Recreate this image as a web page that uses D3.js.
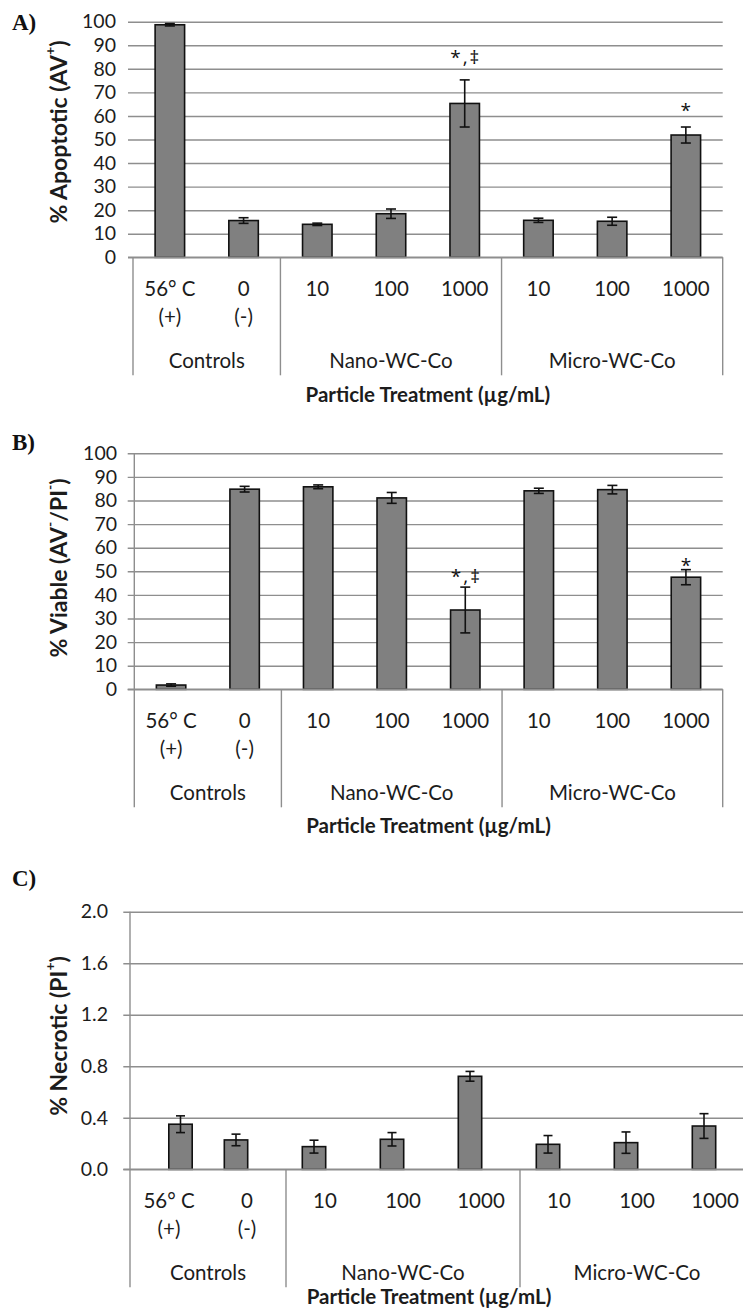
<!DOCTYPE html>
<html>
<head>
<meta charset="utf-8">
<script src="https://cdn.jsdelivr.net/npm/d3@7"></script>
<style>
  html, body { margin: 0; padding: 0; background: #fff; }
  svg { display: block; }
  text { font-family: Lato, "Open Sans", sans-serif; fill: #1c1c1c; }
</style>
</head>
<body>
<svg id="fig" width="743" height="1310"></svg>
<script>
// ---- categories ----
const doseLabels    = ["56° C", "0", "10", "100", "1000", "10", "100", "1000"];
const doseSubLabels = ["(+)", "(-)", "", "", "", "", "", ""];
const groupNames    = ["Controls", "Nano-WC-Co", "Micro-WC-Co"];
const groupSizes    = [2, 3, 3];

// ---- series: mean and error (one per category) ----
const apoptoticMean = [98.7, 15.6, 14.0, 18.5, 65.3, 15.7, 15.3, 51.9];
const apoptoticErr  = [0.5, 1.2, 0.5, 2.0, 10.0, 0.9, 1.7, 3.4];
const viableMean    = [1.8, 84.8, 85.8, 81.1, 33.6, 84.1, 84.6, 47.5];
const viableErr     = [0.5, 1.2, 0.8, 2.3, 9.7, 1.1, 1.8, 3.2];
const necroticMean  = [0.35, 0.228, 0.176, 0.233, 0.722, 0.194, 0.207, 0.336];
const necroticErr   = [0.065, 0.045, 0.05, 0.052, 0.038, 0.068, 0.083, 0.096];

// ---- tick labels ----
const percentTicks  = [0, 10, 20, 30, 40, 50, 60, 70, 80, 90, 100];
const necroticTicks = [0, 0.4, 0.8, 1.2, 1.6, 2.0];

// ---- significance marks (category index, symbol) ----
const apoptoticMarks = [{ i: 4, text: "*,\u2021" }, { i: 7, text: "*" }];
const viableMarks    = [{ i: 4, text: "*,\u2021" }, { i: 7, text: "*" }];

const xTitle = "Particle Treatment (\u00b5g/mL)";

// ---- layout of the three panels ----
const panels = [
  {
    letter: "A)", letterY: 30,
    top: 21.7, zero: 257.3, left: 133, right: 722.7, gridStart: 128, labelRight: 116,
    yMax: 100, ticks: percentTicks, fmt: d3.format("d"),
    title: [["% Apoptotic (AV", 0], ["+", 1], [")", 0]], titleCy: 132,
    mean: apoptoticMean, err: apoptoticErr, marks: apoptoticMarks, markLift: [16, 10],
    barFrac: 0.4, cap: 10, axisLine: false, xTitleDrop: 137, nudge: () => 0
  },
  {
    letter: "B)", letterY: 450,
    top: 453.3, zero: 689.3, left: 134.3, right: 722.7, gridStart: 127.7, labelRight: 117,
    yMax: 100, ticks: percentTicks, fmt: d3.format("d"),
    title: [["% Viable (AV", 0], ["-", 1], ["/PI", 0], ["-", 1], [")", 0]], titleCy: 568,
    mean: viableMean, err: viableErr, marks: viableMarks, markLift: [4, -2],
    barFrac: 0.4, cap: 10, axisLine: true, xTitleDrop: 136, nudge: () => 0
  },
  {
    letter: "C)", letterY: 886,
    top: 911.7, zero: 1169.3, left: 130, right: 754, gridStart: 123.3, labelRight: 108,
    yMax: 2, ticks: necroticTicks, fmt: d3.format(".1f"),
    title: [["% Necrotic (PI", 0], ["+", 1], [")", 0]], titleCy: 1036,
    mean: necroticMean, err: necroticErr, marks: [], markLift: [],
    barFrac: 0.3, cap: 9, axisLine: true, xTitleDrop: 127,
    nudge: i => (i === 0 ? 11.5 : -11)
  }
];

const svg = d3.select("#fig");
svg.append("rect").attr("width", 743).attr("height", 1310).attr("fill", "#fff");

const GRID = "#8e8e8e";
const LABEL_SIZE = "20.5px";

panels.forEach(p => {
  const g = svg.append("g");
  const cats = d3.range(doseLabels.length);

  const x = d3.scaleBand().domain(cats).range([p.left, p.right]).paddingInner(0).paddingOuter(0);
  const y = d3.scaleLinear().domain([0, p.yMax]).range([p.zero, p.top]);
  const bw = x.bandwidth() * p.barFrac;

  // panel letter
  g.append("text")
    .attr("x", 12).attr("y", p.letterY)
    .style("font-family", "'Liberation Serif', 'Times New Roman', serif")
    .style("font-weight", "bold").style("font-size", "23px").style("fill", "#111")
    .text(p.letter);

  // value axis with gridlines
  const yAxis = d3.axisLeft(y)
    .tickValues(p.ticks)
    .tickFormat(p.fmt)
    .tickSize(-(Math.min(p.right, 743) - p.gridStart))
    .tickPadding(p.gridStart - p.labelRight);
  const ag = g.append("g").attr("transform", `translate(${p.gridStart},0)`).call(yAxis);
  ag.select(".domain").remove();
  ag.selectAll(".tick line").attr("stroke", GRID).attr("stroke-width", 1.4);
  ag.selectAll(".tick text")
    .style("font-family", "Lato, 'Open Sans', sans-serif")
    .style("font-size", "19.5px").attr("fill", "#1c1c1c");

  // y axis line (where drawn)
  if (p.axisLine) {
    g.append("line")
      .attr("x1", p.left).attr("x2", p.left)
      .attr("y1", p.top).attr("y2", p.zero)
      .attr("stroke", GRID).attr("stroke-width", 1.4);
  }

  // axis title
  const tt = g.append("text")
    .attr("transform", `translate(57.5,${p.titleCy}) rotate(-90)`)
    .attr("text-anchor", "middle")
    .attr("dominant-baseline", "central")
    .style("font-weight", "bold").style("font-size", "23px");
  p.title.forEach(([s, sup]) => {
    const ts = tt.append("tspan").text(s);
    if (sup) ts.attr("baseline-shift", "super").style("font-size", "14px");
  });

  // bars
  const cx = i => x(i) + x.bandwidth() / 2 + p.nudge(i);
  g.selectAll("rect.bar").data(cats).join("rect")
    .attr("class", "bar")
    .attr("x", i => cx(i) - bw / 2)
    .attr("y", i => y(p.mean[i]))
    .attr("width", bw)
    .attr("height", i => y(0) - y(p.mean[i]))
    .attr("fill", "#808080")
    .attr("stroke", "#111").attr("stroke-width", 1.6);

  // error bars
  const eb = g.selectAll("g.err").data(cats).join("g").attr("class", "err")
    .attr("stroke", "#111").attr("stroke-width", 1.6);
  eb.append("line")
    .attr("x1", cx).attr("x2", cx)
    .attr("y1", i => y(p.mean[i] + p.err[i]))
    .attr("y2", i => y(p.mean[i] - p.err[i]));
  [1, -1].forEach(s => {
    eb.append("line")
      .attr("x1", i => cx(i) - p.cap / 2).attr("x2", i => cx(i) + p.cap / 2)
      .attr("y1", i => y(p.mean[i] + s * p.err[i]))
      .attr("y2", i => y(p.mean[i] + s * p.err[i]));
  });

  // x axis baseline
  g.append("line")
    .attr("x1", p.gridStart).attr("x2", Math.min(p.right, 743))
    .attr("y1", y(0)).attr("y2", y(0))
    .attr("stroke", GRID).attr("stroke-width", 1.4);

  // significance marks
  p.marks.forEach((m, k) => {
    g.append("text")
      .attr("x", cx(m.i) + 1)
      .attr("y", y(p.mean[m.i] + p.err[m.i]) - p.markLift[k])
      .attr("text-anchor", "middle")
      .style("font-family", "'Open Sans', sans-serif")
      .style("font-size", "19px").style("letter-spacing", "2px").style("fill", "#111")
      .text(m.text);
  });

  // category labels
  const labs = g.selectAll("g.cat").data(cats).join("g").attr("class", "cat")
    .attr("transform", i => `translate(${x(i) + x.bandwidth() / 2},0)`);
  labs.append("text")
    .attr("y", p.zero + 30.7).attr("text-anchor", "middle").attr("dominant-baseline", "central")
    .style("font-size", LABEL_SIZE).text(i => doseLabels[i]);
  labs.append("text")
    .attr("y", p.zero + 59).attr("text-anchor", "middle").attr("dominant-baseline", "central")
    .style("font-size", LABEL_SIZE).text(i => doseSubLabels[i]);

  // group separators and names
  let start = 0;
  const bounds = [0];
  groupSizes.forEach(n => { start += n; bounds.push(start); });
  bounds.forEach((b, k) => {
    const bx = b < cats.length ? x(b) : p.right;
    const xx = (k === 0 && p.axisLine) ? p.left : bx;
    if (xx <= 743) {
      g.append("line")
        .attr("x1", xx).attr("x2", xx)
        .attr("y1", p.zero).attr("y2", p.zero + 118)
        .attr("stroke", GRID).attr("stroke-width", 1.4);
    }
  });
  groupNames.forEach((name, k) => {
    const a = x(bounds[k]);
    const b = bounds[k + 1] < cats.length ? x(bounds[k + 1]) : p.right;
    g.append("text")
      .attr("x", (a + b) / 2).attr("y", p.zero + 103)
      .attr("text-anchor", "middle").attr("dominant-baseline", "central")
      .style("font-size", LABEL_SIZE).text(name);
  });

  // category axis title
  g.append("text")
    .attr("x", (p.left + p.right) / 2 - (p.right > 743 ? 13 : 0))
    .attr("y", p.zero + p.xTitleDrop)
    .attr("text-anchor", "middle").attr("dominant-baseline", "central")
    .style("font-weight", "bold").style("font-size", "20.5px")
    .text(xTitle);
});
</script>
</body>
</html>
